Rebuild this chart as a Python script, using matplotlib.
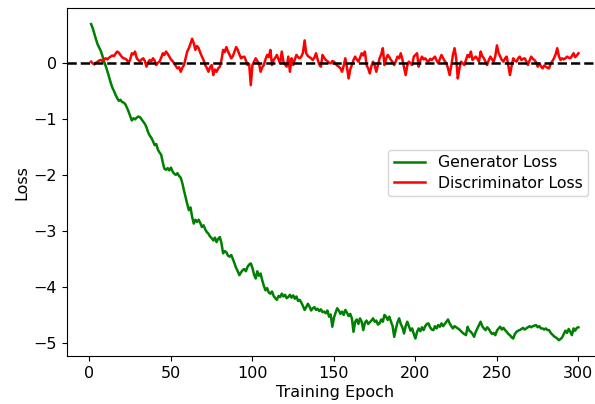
import matplotlib
matplotlib.use("Agg")
import matplotlib.pyplot as plt
import numpy as np

epochs = list(range(1, 301))

generator_loss = [
    0.69, 0.62, 0.52, 0.42, 0.33, 0.27, 0.21, 0.12, 0.02, -0.06,
    -0.15, -0.25, -0.35, -0.44, -0.50, -0.57, -0.63, -0.68, -0.66, -0.70,
    -0.71, -0.74, -0.80, -0.87, -0.95, -1.03, -0.99, -1.01, -0.98, -0.96,
    -0.97, -1.01, -1.05, -1.09, -1.15, -1.24, -1.30, -1.34, -1.40, -1.47,
    -1.45, -1.55, -1.60, -1.64, -1.78, -1.89, -1.91, -1.88, -1.92, -1.87,
    -1.94, -1.98, -2.00, -1.97, -2.02, -2.05, -2.15, -2.28, -2.40, -2.52,
    -2.63, -2.58, -2.75, -2.87, -2.80, -2.84, -2.80, -2.86, -2.93, -2.90,
    -2.97, -3.02, -3.05, -3.10, -3.13, -3.17, -3.12, -3.20, -3.14, -3.11,
    -3.22, -3.40, -3.36, -3.38, -3.44, -3.46, -3.43, -3.50, -3.58, -3.66,
    -3.72, -3.79, -3.74, -3.70, -3.68, -3.72, -3.64, -3.60, -3.58, -3.66,
    -3.78, -3.85, -3.72, -3.80, -3.76, -3.88, -3.98, -4.06, -4.02, -4.10,
    -4.12, -4.08, -4.16, -4.20, -4.23, -4.16, -4.18, -4.12, -4.17, -4.14,
    -4.20, -4.18, -4.14, -4.19, -4.15, -4.21, -4.17, -4.25, -4.23, -4.28,
    -4.34, -4.41, -4.36, -4.30, -4.35, -4.42, -4.38, -4.36, -4.41, -4.39,
    -4.43, -4.40, -4.45, -4.44, -4.47, -4.42, -4.53, -4.49, -4.71, -4.55,
    -4.46, -4.38, -4.42, -4.48, -4.44, -4.50, -4.41, -4.46, -4.52, -4.48,
    -4.56, -4.80, -4.62, -4.58, -4.66, -4.56, -4.62, -4.77, -4.64, -4.60,
    -4.66, -4.63, -4.60, -4.56, -4.62, -4.60, -4.67, -4.65, -4.58, -4.62,
    -4.50, -4.53, -4.59, -4.53, -4.62, -4.70, -4.89, -4.75, -4.63, -4.56,
    -4.66, -4.72, -4.83, -4.70, -4.62, -4.70, -4.78, -4.74, -4.84, -4.92,
    -4.80, -4.74, -4.79, -4.72, -4.77, -4.70, -4.66, -4.65, -4.72, -4.76,
    -4.77, -4.70, -4.74, -4.68, -4.71, -4.65, -4.70, -4.66, -4.62, -4.58,
    -4.65, -4.70, -4.74, -4.70, -4.72, -4.74, -4.76, -4.79, -4.82, -4.84,
    -4.86, -4.71, -4.78, -4.80, -4.84, -4.89, -4.80, -4.74, -4.68, -4.62,
    -4.70, -4.74, -4.77, -4.72, -4.75, -4.80, -4.84, -4.82, -4.86, -4.78,
    -4.74, -4.71, -4.76, -4.73, -4.77, -4.80, -4.84, -4.86, -4.90, -4.92,
    -4.84, -4.80, -4.78, -4.77, -4.75, -4.73, -4.76, -4.74, -4.72, -4.70,
    -4.72, -4.70, -4.69, -4.68, -4.72, -4.70, -4.74, -4.74, -4.76, -4.74,
    -4.77, -4.77, -4.82, -4.85, -4.88, -4.90, -4.92, -4.95, -4.93, -4.90,
    -4.84, -4.78, -4.82, -4.75, -4.80, -4.86, -4.74, -4.78, -4.73, -4.72,
]

discriminator_loss = [
    0.02, -0.01, -0.03, 0.00, 0.02, 0.04, 0.05, 0.03, 0.06, 0.08,
    0.06, 0.09, 0.11, 0.13, 0.12, 0.16, 0.20, 0.18, 0.14, 0.10,
    0.08, 0.07, 0.05, -0.01, 0.06, 0.17, 0.15, 0.20, 0.08, 0.05,
    0.02, 0.06, 0.08, 0.03, -0.07, 0.01, 0.05, 0.03, 0.08, 0.04,
    -0.04, 0.00, 0.02, 0.09, 0.17, 0.14, 0.20, 0.16, 0.11, 0.06,
    0.03, -0.01, -0.06, -0.10, -0.08, -0.16, -0.09, -0.04, 0.08, 0.20,
    0.26, 0.34, 0.43, 0.35, 0.23, 0.30, 0.26, 0.18, 0.11, 0.05,
    -0.04, -0.09, -0.16, -0.08, -0.04, -0.22, -0.12, -0.16, -0.10, -0.07,
    0.05, 0.23, 0.19, 0.28, 0.20, 0.14, 0.08, 0.12, 0.20, 0.28,
    0.23, 0.15, 0.08, 0.10, 0.11, 0.04, -0.04, -0.02, -0.40, -0.04,
    0.02, 0.08, 0.03, -0.01, -0.16, -0.08, -0.04, 0.06, 0.14, 0.10,
    0.23, -0.04, 0.05, 0.09, 0.14, 0.06, -0.01, 0.20, 0.02, -0.03,
    -0.07, 0.11, -0.16, 0.08, -0.04, 0.06, 0.14, 0.10, 0.08, 0.11,
    0.18, 0.40, 0.17, 0.12, 0.10, 0.08, 0.05, 0.09, 0.17, 0.06,
    -0.03, -0.07, 0.14, 0.09, 0.05, 0.03, 0.00, -0.01, 0.03, 0.02,
    -0.02, -0.05, -0.07, -0.10, -0.16, -0.05, 0.08, -0.08, -0.28, -0.12,
    -0.04, 0.05, 0.11, 0.06, 0.02, 0.09, 0.17, 0.13, 0.20, -0.04,
    -0.10, -0.19, -0.06, 0.02, -0.05, -0.16, -0.04, 0.08, 0.15, 0.26,
    -0.04, 0.07, 0.14, 0.10, 0.05, 0.01, -0.04, 0.03, 0.11, 0.08,
    0.17, 0.06, -0.08, -0.22, -0.05, 0.02, -0.01, -0.04, 0.11, 0.14,
    0.17, -0.07, 0.04, 0.11, 0.06, 0.08, 0.04, 0.02, 0.07, 0.05,
    0.08, 0.11, 0.04, -0.01, 0.07, 0.14, 0.08, 0.03, -0.01, -0.10,
    -0.22, -0.05, 0.14, 0.26, 0.08, -0.28, -0.10, 0.02, -0.01, -0.04,
    0.05, 0.14, 0.10, 0.20, 0.05, 0.08, 0.11, 0.07, 0.02, 0.20,
    0.12, 0.08, 0.02, -0.04, 0.05, 0.11, 0.06, 0.02, 0.12, 0.31,
    0.18, 0.11, 0.05, 0.02, 0.08, 0.11, -0.05, -0.22, -0.06, 0.08,
    0.04, 0.02, 0.08, 0.11, 0.05, 0.07, 0.08, 0.03, -0.04, 0.04,
    0.11, 0.07, 0.05, 0.01, -0.07, -0.01, -0.06, -0.10, -0.05, -0.07,
    -0.09, -0.10, -0.01, 0.03, 0.08, 0.15, 0.26, 0.12, 0.05, 0.08,
    0.06, 0.08, 0.11, 0.09, 0.08, 0.12, 0.17, 0.10, 0.13, 0.17,
]

series_labels = ["Generator Loss", "Discriminator Loss"]
x_label = "Training Epoch"
y_label = "Loss"

plt.rcParams["font.family"] = ["DejaVu Sans"]
plt.rcParams["font.size"] = 11.5

fig = plt.figure(figsize=(5.95, 4.04), dpi=100)
ax = fig.add_axes([66.7 / 595, 1 - 356 / 404, (602.8 - 66.7) / 595, (356 - 8.3) / 404])

ax.plot(epochs, generator_loss, color="green", lw=1.8, label=series_labels[0])
ax.plot(epochs, discriminator_loss, color="red", lw=1.8, label=series_labels[1])
ax.axhline(0, color="black", ls="--", lw=1.8)

ax.set_xlabel(x_label, labelpad=3)
ax.set_ylabel(y_label, labelpad=3)
ax.set_xticks([0, 50, 100, 150, 200, 250, 300])
ax.set_yticks([0, -1, -2, -3, -4, -5])
ax.legend(loc="upper right", bbox_to_anchor=(0.972, 0.5925), borderaxespad=0,
          fontsize=11.3, labelspacing=0.35, borderpad=0.35)

fig.savefig("out.png", dpi=100)
